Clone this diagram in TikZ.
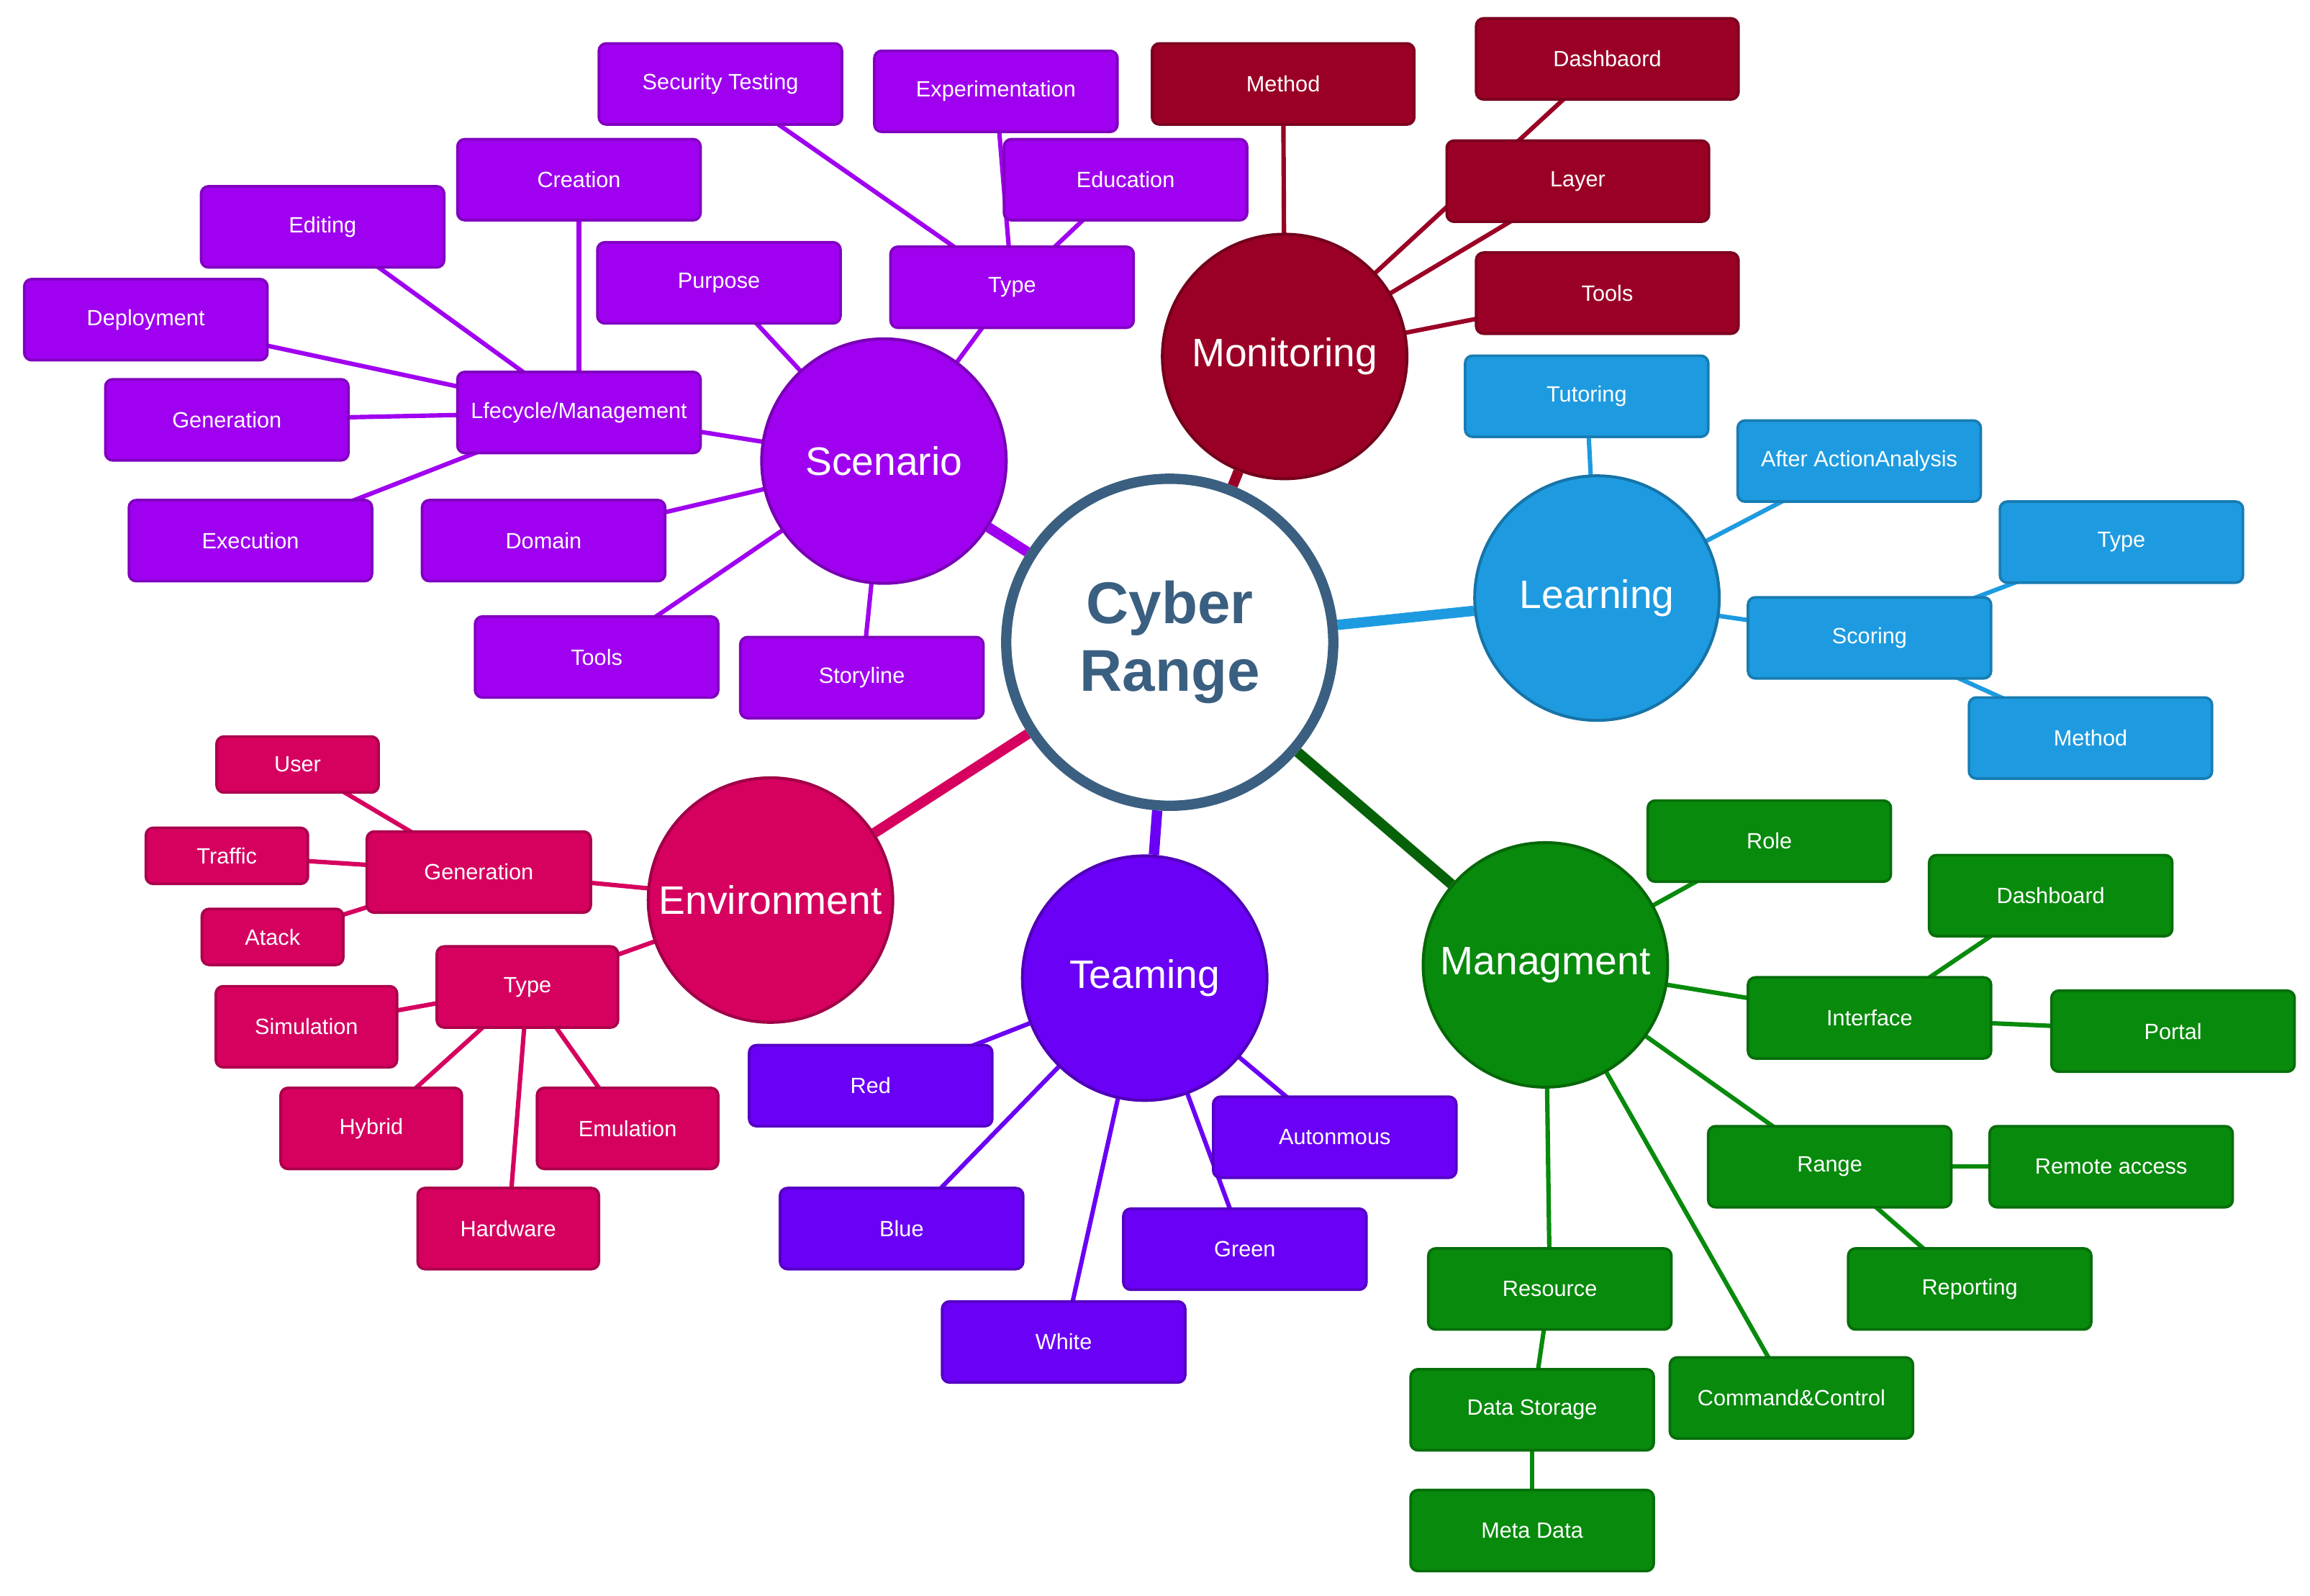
\documentclass[tikz,border=0pt]{standalone}
\usepackage{fontspec}
\setmainfont{Liberation Sans}
\usetikzlibrary{backgrounds}
\definecolor{cS}{HTML}{A000F0}
\definecolor{cM}{HTML}{9A0025}
\definecolor{cL}{HTML}{1E9BE0}
\definecolor{cG}{HTML}{088A0C}
\definecolor{cT}{HTML}{6A00F5}
\definecolor{cE}{HTML}{D6005F}
\definecolor{cC}{HTML}{3A5F80}
\tikzset{
 box/.style={draw=#1!80!black,fill=#1,line width=1.8pt,rounded corners=5pt,text=white,font=\fontsize{15}{17}\selectfont,minimum width=165pt,minimum height=55pt,inner sep=2pt},
 hub/.style={circle,draw=#1!75!black,fill=#1,line width=2pt,text=white,font=\fontsize{27}{30}\selectfont,minimum size=166pt,inner sep=0pt},
 ln/.style={draw=#1,line width=3pt},
 big/.style={draw=#1,line width=7pt},
}
\begin{document}
\begin{tikzpicture}[x=1pt,y=-1pt]
\useasboundingbox (0,0) rectangle (1568,1083);
\node[circle,draw=cC,fill=white,line width=7pt,minimum size=222pt,text=cC,font=\fontsize{40}{46}\selectfont\bfseries,align=center] (C) at (794,436) {Cyber\\Range};
% Scenario
\node[hub=cS] (S) at (600,313) {Scenario};
\node[box=cS] (s1) at (489,57) {Security Testing};
\node[box=cS] (s2) at (676,62) {Experimentation};
\node[box=cS] (s3) at (393,122) {Creation};
\node[box=cS] (s4) at (764,122) {Education};
\node[box=cS] (s5) at (219,154) {Editing};
\node[box=cS] (s6) at (488,192) {Purpose};
\node[box=cS] (s7) at (687,195) {Type};
\node[box=cS] (s8) at (99,217) {Deployment};
\node[box=cS] (s9) at (393,280) {Lfecycle/Management};
\node[box=cS] (s10) at (154,285) {Generation};
\node[box=cS] (s11) at (170,367) {Execution};
\node[box=cS] (s12) at (369,367) {Domain};
\node[box=cS] (s13) at (405,446) {Tools};
\node[box=cS] (s14) at (585,460) {Storyline};
% Monitoring
\node[hub=cM] (M) at (872,242) {Monitoring};
\node[box=cM,minimum width=178pt] (m1) at (871,57) {Method};
\node[box=cM,minimum width=178pt] (m2) at (1091,40) {Dashbaord};
\node[box=cM,minimum width=178pt] (m3) at (1071,123) {Layer};
\node[box=cM,minimum width=178pt] (m4) at (1091,199) {Tools};
% Learning
\node[hub=cL] (L) at (1084,406) {Learning};
\node[box=cL] (l1) at (1077,269) {Tutoring};
\node[box=cL] (l2) at (1262,313) {After ActionAnalysis};
\node[box=cL] (l3) at (1269,433) {Scoring};
\node[box=cL] (l4) at (1440,368) {Type};
\node[box=cL] (l5) at (1419,501) {Method};
% Environment
\node[hub=cE] (E) at (523,611) {Environment};
\node[box=cE,minimum width=152pt] (e1) at (325,592) {Generation};
\node[box=cE,minimum width=110pt,minimum height=38pt] (e2) at (202,519) {User};
\node[box=cE,minimum width=110pt,minimum height=38pt] (e3) at (154,581) {Traffic};
\node[box=cE,minimum width=96pt,minimum height=38pt] (e4) at (185,636) {Atack};
\node[box=cE,minimum width=123pt] (e5) at (358,670) {Type};
\node[box=cE,minimum width=123pt] (e6) at (208,697) {Simulation};
\node[box=cE,minimum width=123pt] (e7) at (252,766) {Hybrid};
\node[box=cE,minimum width=123pt] (e8) at (426,766) {Emulation};
\node[box=cE,minimum width=123pt] (e9) at (345,834) {Hardware};
% Teaming
\node[hub=cT] (T) at (777,664) {Teaming};
\node[box=cT] (t1) at (591,737) {Red};
\node[box=cT] (t2) at (612,834) {Blue};
\node[box=cT] (t3) at (722,911) {White};
\node[box=cT] (t4) at (845,848) {Green};
\node[box=cT] (t5) at (906,772) {Autonmous};
% Managment
\node[hub=cG] (G) at (1049,655) {Managment};
\node[box=cG] (g1) at (1201,571) {Role};
\node[box=cG] (g2) at (1392,608) {Dashboard};
\node[box=cG] (g3) at (1269,691) {Interface};
\node[box=cG] (g4) at (1475,700) {Portal};
\node[box=cG] (g5) at (1242,792) {Range};
\node[box=cG] (g6) at (1433,792) {Remote access};
\node[box=cG] (g7) at (1337,875) {Reporting};
\node[box=cG] (g8) at (1052,875) {Resource};
\node[box=cG] (g9) at (1040,957) {Data Storage};
\node[box=cG] (g10) at (1040,1039) {Meta Data};
\node[box=cG] (g11) at (1216,949) {Command\&Control};
\begin{scope}[on background layer]
\draw[big=cS] (C)--(S); \draw[big=cM] (C)--(M); \draw[big=cL] (C)--(L);
\draw[big=cE] (C)--(E); \draw[big=cT] (C)--(T); \draw[big=cG!70!black] (C)--(G);
\foreach \a/\b in {S/s6,S/s7,s7/s1,s7/s2,s7/s4,S/s9,s9/s3,s9/s5,s9/s8,s9/s10,s9/s11,S/s12,S/s13,S/s14}{\draw[ln=cS] (\a.center)--(\b.center);}
\foreach \b in {m1,m2,m3,m4}{\draw[ln=cM] (M.center)--(\b.center);}
\foreach \a/\b in {L/l1,L/l2,L/l3,l3/l4,l3/l5}{\draw[ln=cL] (\a.center)--(\b.center);}
\foreach \a/\b in {E/e1,e1/e2,e1/e3,e1/e4,E/e5,e5/e6,e5/e7,e5/e8,e5/e9}{\draw[ln=cE] (\a.center)--(\b.center);}
\foreach \b in {t1,t2,t3,t4,t5}{\draw[ln=cT] (T.center)--(\b.center);}
\foreach \a/\b in {G/g1,G/g3,g3/g2,g3/g4,G/g5,g5/g6,g5/g7,G/g8,g8/g9,g9/g10,G/g11}{\draw[ln=cG] (\a.center)--(\b.center);}
\end{scope}
\end{tikzpicture}
\end{document}
